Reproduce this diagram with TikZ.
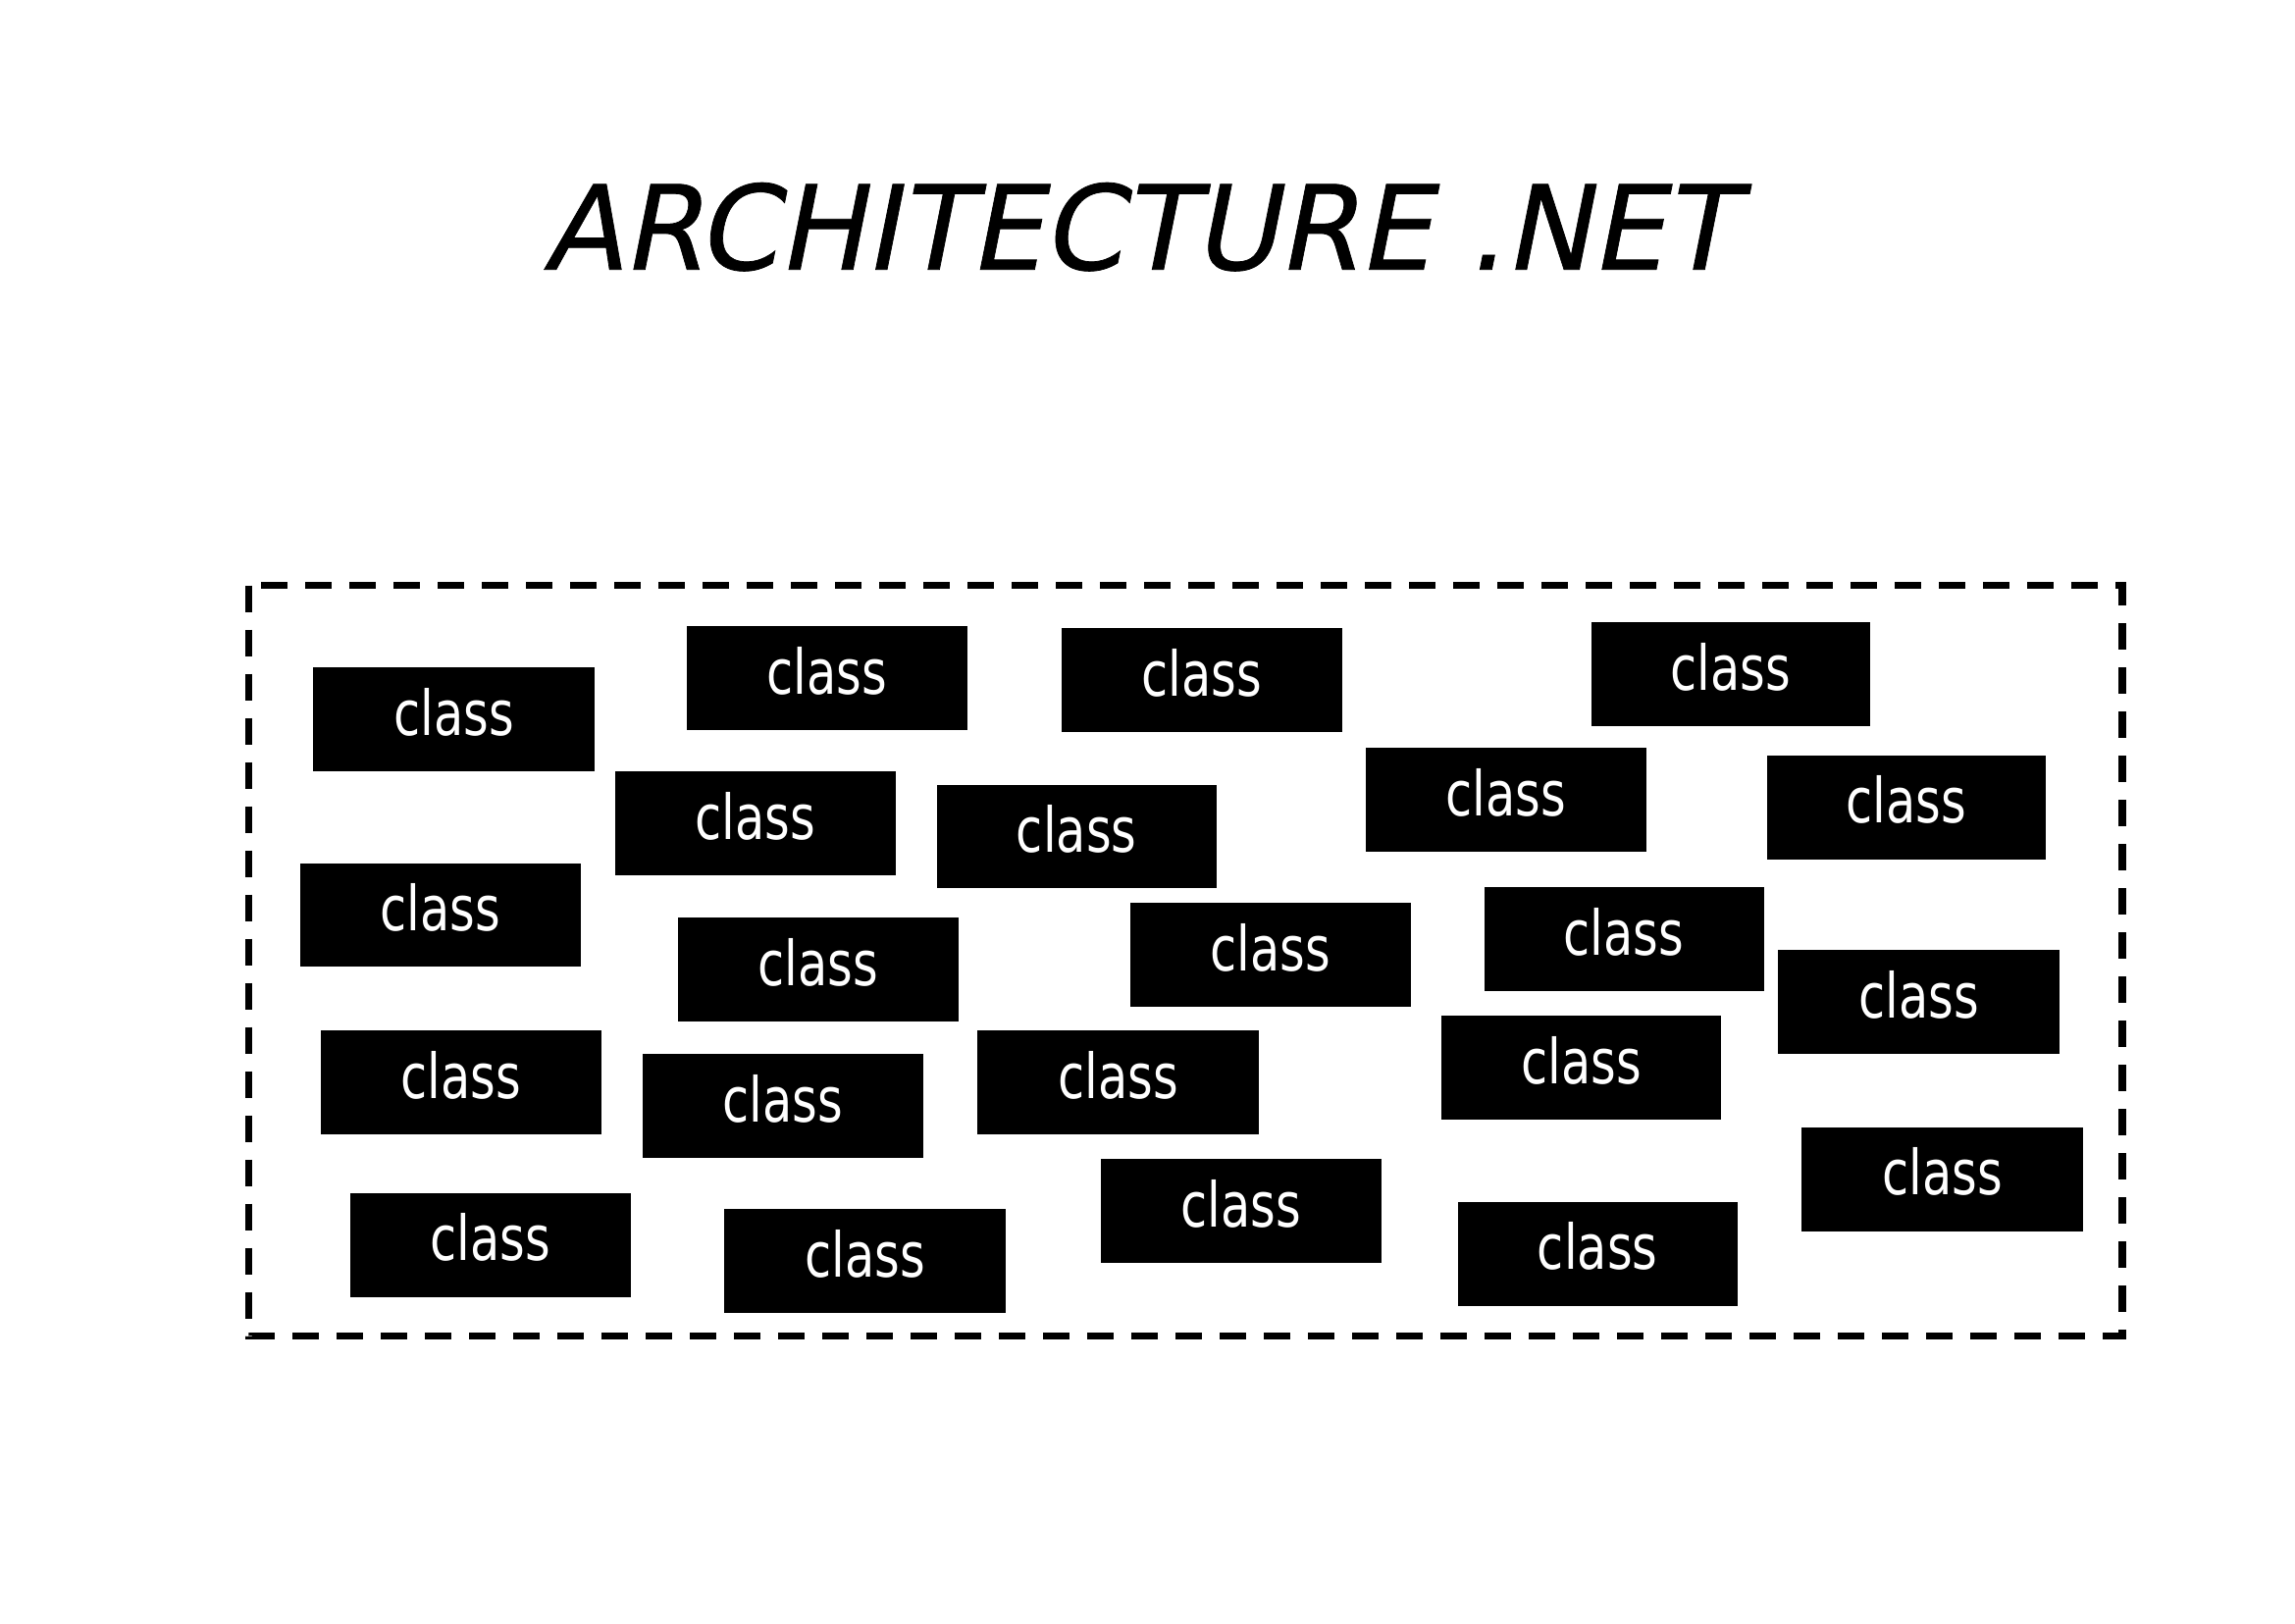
\documentclass[tikz,border=0pt]{standalone}
\usepackage{fontspec}
\setmainfont{DejaVu Sans}
\newfontfamily\classfont[FakeStretch=0.78]{DejaVu Sans}
\newfontfamily\titlefont[FakeStretch=0.985,FakeSlant=0.2,FakeBold=0.6]{DejaVu Sans}
\begin{document}
\begin{tikzpicture}[x=0.14917mm,y=-0.14917mm,
  frame/.style={line width=2pt,dash pattern=on 2.7mm off 1.8mm},
  cls/.style={fill=black,draw=none}]
\useasboundingbox (0,0) rectangle (1568,1109);
\node[inner sep=0,anchor=center] (title) at (778,155) {\fontsize{34pt}{40pt}\selectfont\titlefont ARCHITECTURE .NET};
\draw[frame] (170,400) rectangle (1450,913);
\foreach \n/\l/\t/\r/\b in {
 c1/214/456/406/527, c2/469/428/661/499, c3/725/429/917/500, c4/1087/425/1278/496,
 c5/420/527/612/598, c6/640/536/831/607, c7/933/511/1125/582, c8/1207/516/1398/587,
 c9/205/590/397/660, c10/463/627/655/698, c11/772/617/964/688, c12/1014/606/1205/677,
 c13/1215/649/1407/720, c14/219/704/411/775, c15/439/720/631/791, c16/668/704/860/775,
 c17/985/694/1176/765, c18/1231/770/1423/841, c19/239/815/431/886, c20/495/826/687/897,
 c21/752/792/944/863, c22/996/821/1187/892}{
  \fill[cls] (\l,\t) rectangle (\r,\b);
  \node[text=white,inner sep=0] (\n) at ({(\l+\r)/2},{(\t+\b)/2-5}) {\fontsize{18pt}{20pt}\selectfont\classfont class};
}
\end{tikzpicture}
\end{document}
